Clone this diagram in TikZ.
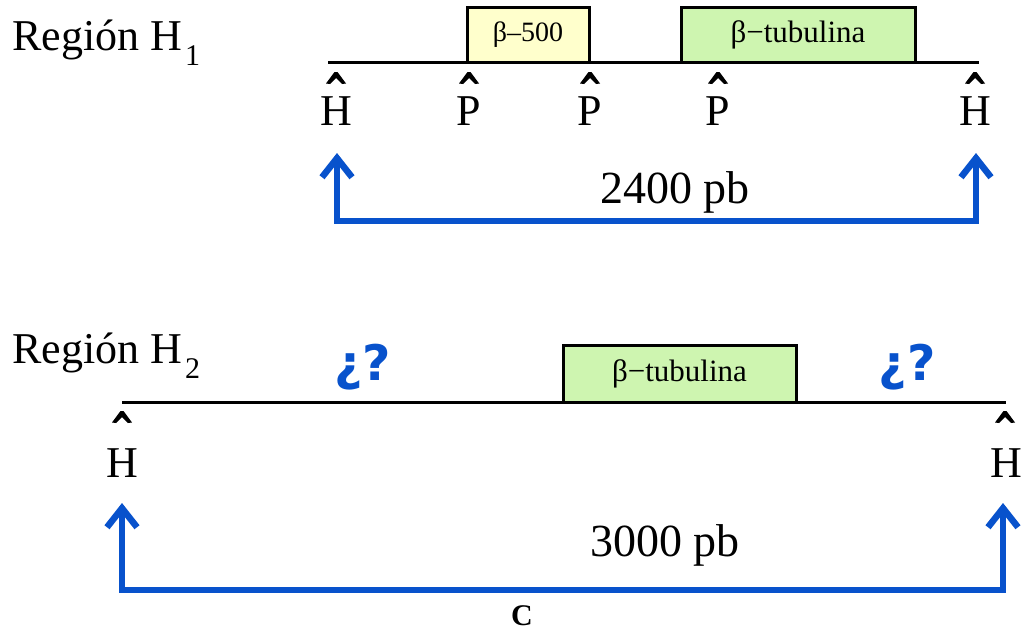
\documentclass[tikz,border=0pt]{standalone}
\usepackage{fontspec}
\setmainfont{Liberation Serif}
\newfontfamily\markfont{DejaVu Sans}
\usetikzlibrary{arrows.meta}
\definecolor{arrowblue}{RGB}{8,82,204}
\definecolor{boxyellow}{RGB}{255,255,204}
\definecolor{boxgreen}{RGB}{206,245,176}
\begin{document}
\begin{tikzpicture}[x=1pt,y=-1pt,
  region/.style={anchor=base west, inner sep=0pt, font=\fontsize{44}{44}\selectfont},
  site/.style={anchor=base, inner sep=0pt, font=\fontsize{44}{44}\selectfont},
  size/.style={anchor=base, inner sep=0pt, font=\fontsize{46}{46}\selectfont},
  unknown/.style={anchor=base, inner sep=0pt, text=arrowblue, font=\markfont\bfseries\fontsize{49}{49}\selectfont},
  seq/.style={line width=3pt},
  gene/.style={draw=black, line width=3pt, anchor=north west, inner sep=0pt, outer sep=0pt},
  span/.style={draw=arrowblue, line width=6.5pt,
    {Straight Barb[length=19pt,width=30pt]}-{Straight Barb[length=19pt,width=30pt]}},
  hat/.pic={\fill (-10,6) -- (-1.5,-5.5) -- (1.5,-5.5) -- (10,6) -- (6,6.5) -- (0,0.5) -- (-6,6.5) -- cycle;}
]
\useasboundingbox (0,0) rectangle (1023,632);

% ---------- Region H1 ----------
\node[region] (r1) at (12,50) {Región H\kern3pt\raisebox{-15pt}{\fontsize{30}{30}\selectfont 1}};

\coordinate (l1a) at (328,62);
\coordinate (l1b) at (979,62);
\draw[seq] (l1a) -- (l1b);

\node[gene, fill=boxyellow, minimum width=122pt, minimum height=55pt] (b500) at (467,7)
  {\fontsize{28}{28}\selectfont β–500};
\node[gene, fill=boxgreen, minimum width=234pt, minimum height=55pt] (tub1) at (681,7)
  {\fontsize{31}{31}\selectfont β−tubulina};

\foreach \x in {336,469,590,718,975} \pic at (\x,77.5) {hat};
\node[site] (h1a) at (336,125) {H};
\node[site] (p1a) at (469,125) {P};
\node[site] (p1b) at (590,125) {P};
\node[site] (p1c) at (718,125) {P};
\node[site] (h1b) at (975,125) {H};

\coordinate (t1a) at (337,153);
\coordinate (c1a) at (337,221);
\coordinate (c1b) at (976,221);
\coordinate (t1b) at (976,153);
\draw[span] (t1a) -- (c1a) -- (c1b) -- (t1b);
\node[size] (d1) at (675,203) {2400 pb};

% ---------- Region H2 ----------
\node[region] (r2) at (12,363) {Región H\kern3pt\raisebox{-15pt}{\fontsize{30}{30}\selectfont 2}};

\coordinate (l2a) at (122,402);
\coordinate (l2b) at (1006,402);
\draw[seq] (l2a) -- (l2b);

\node[gene, fill=boxgreen, minimum width=233pt, minimum height=57pt] (tub2) at (563,345)
  {\fontsize{31}{31}\selectfont β−tubulina};

\node[unknown] (q1) at (363,380) {¿?};
\node[unknown] (q2) at (907,380) {¿?};

\foreach \x in {122,1005} \pic at (\x,416.5) {hat};
\node[site] (h2a) at (122,477) {H};
\node[site] (h2b) at (1006,477) {H};

\coordinate (t2a) at (122,503);
\coordinate (c2a) at (122,590);
\coordinate (c2b) at (1003,590);
\coordinate (t2b) at (1003,503);
\draw[span] (t2a) -- (c2a) -- (c2b) -- (t2b);
\node[size] (d2) at (665,556) {3000 pb};

\node[anchor=base, inner sep=0pt, font=\bfseries\fontsize{30}{30}\selectfont] (cap) at (522,625) {C};
\end{tikzpicture}
\end{document}
